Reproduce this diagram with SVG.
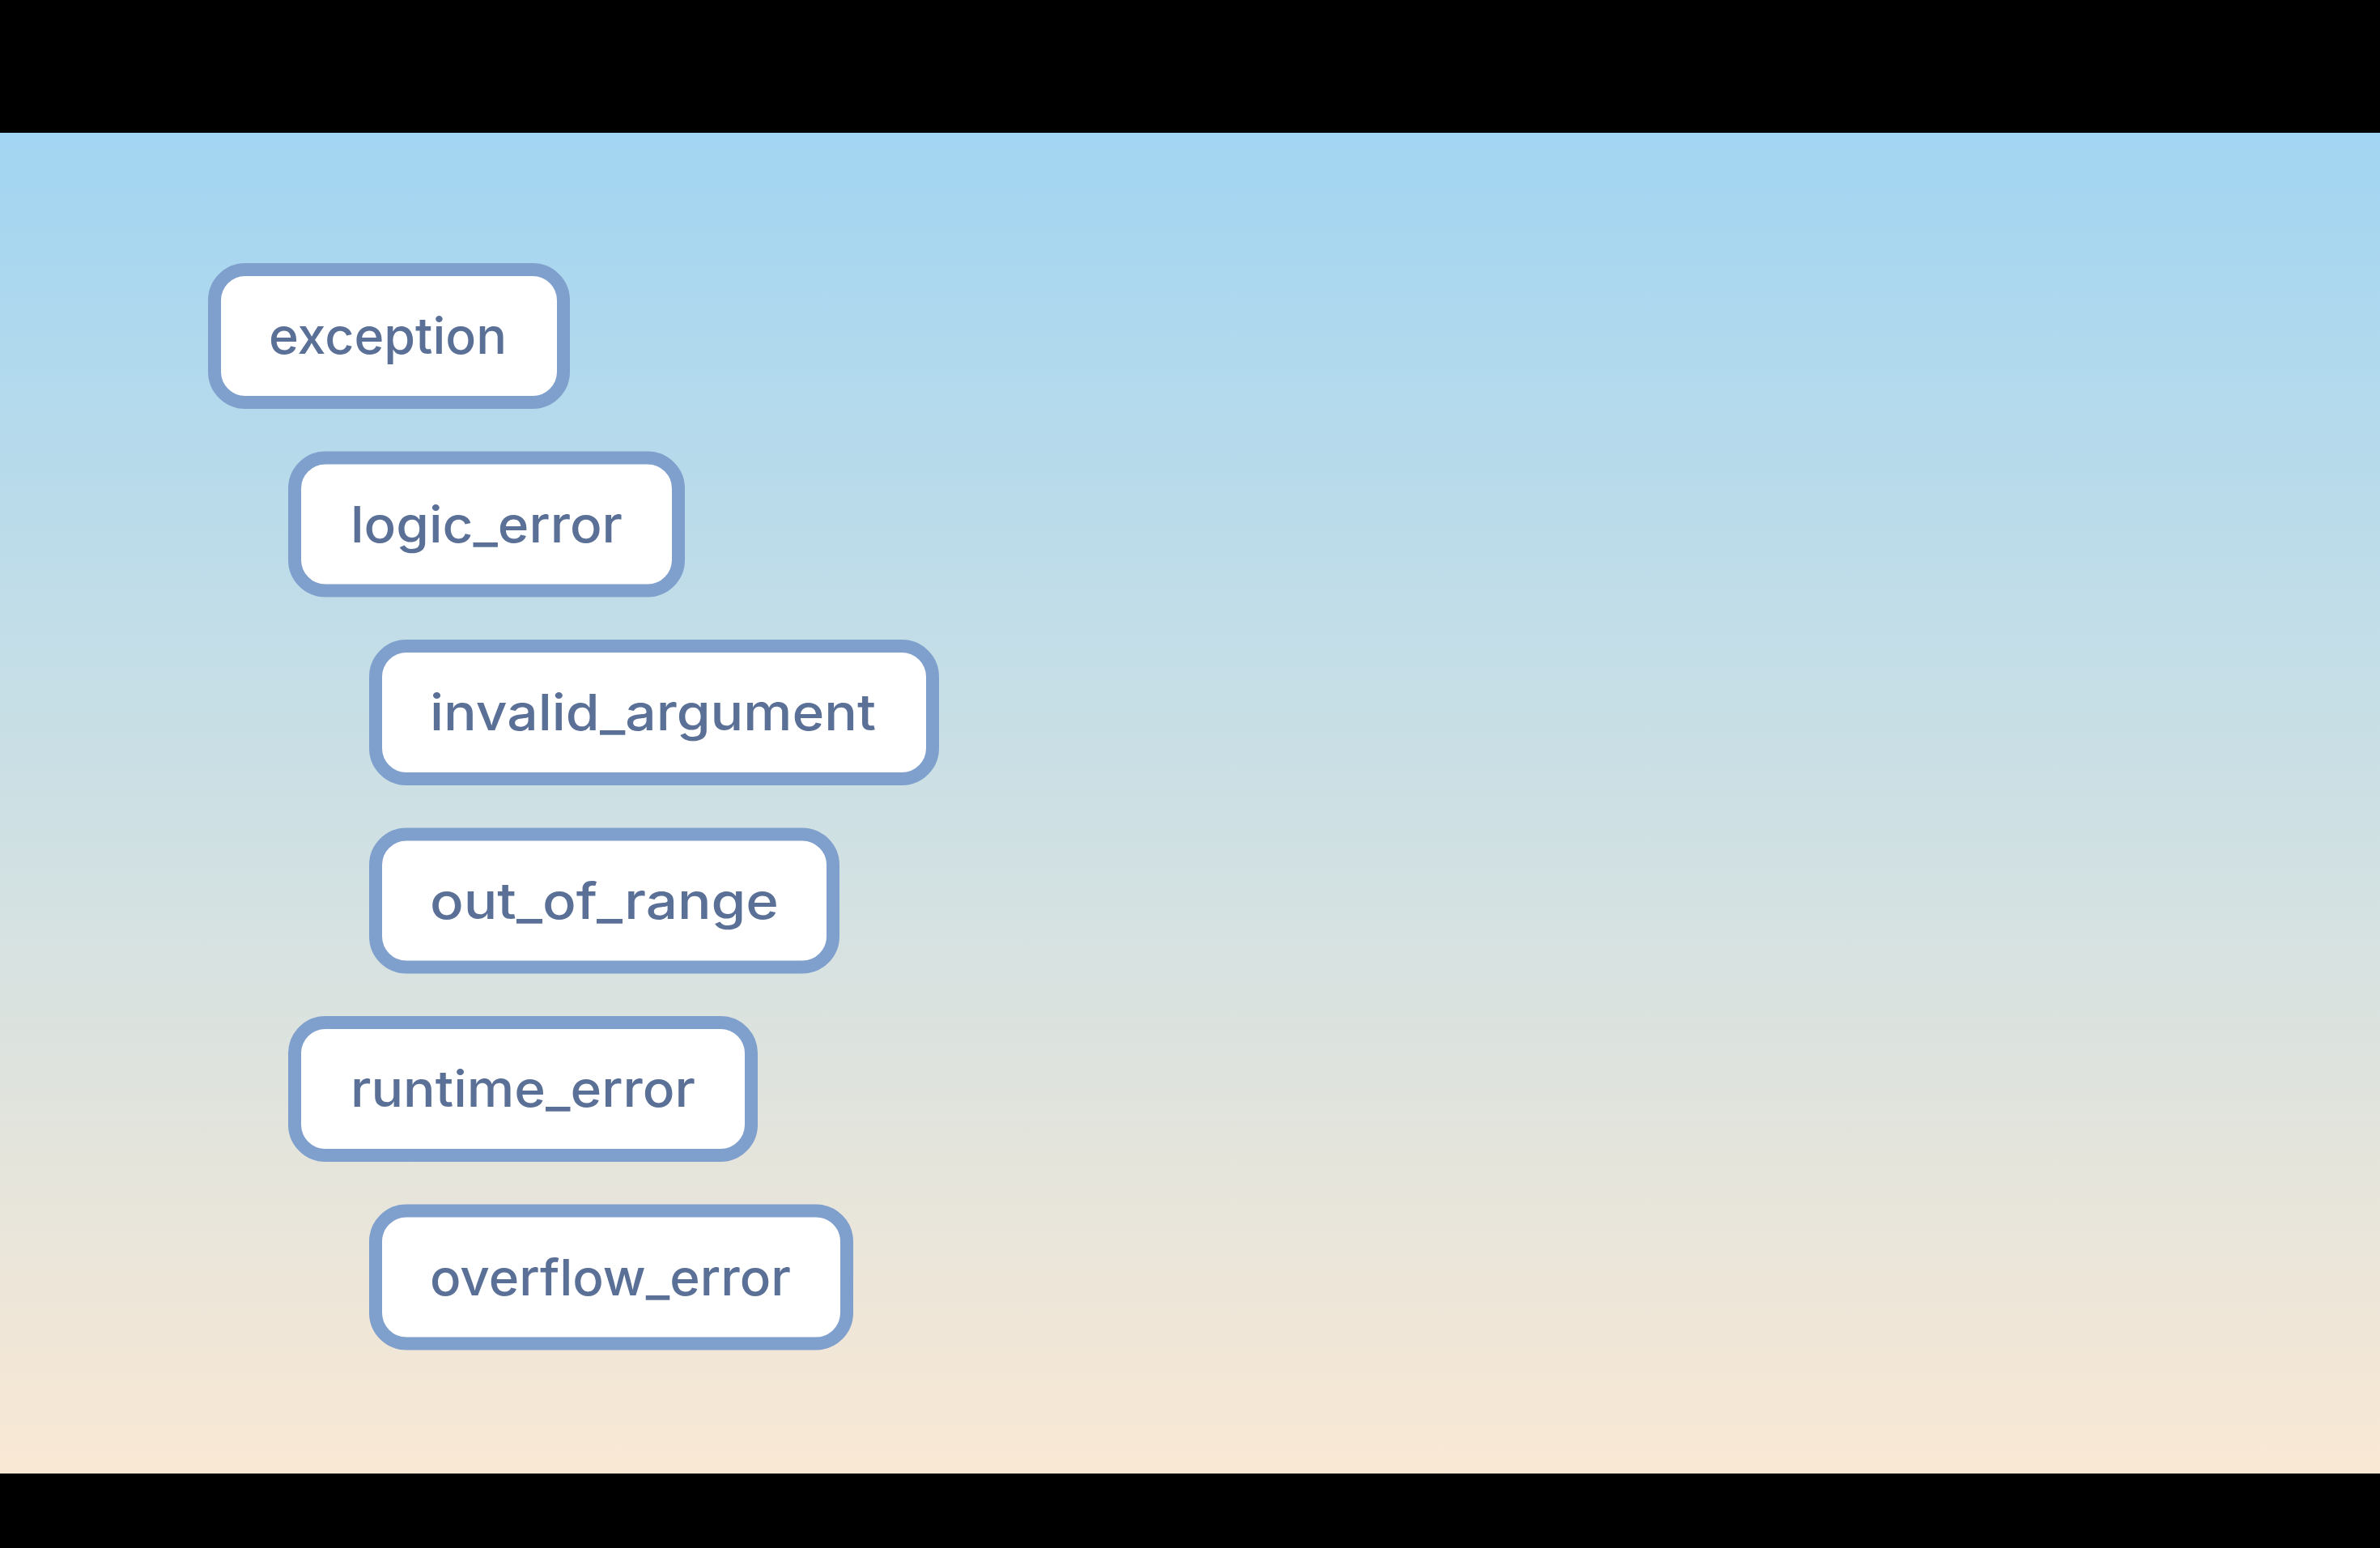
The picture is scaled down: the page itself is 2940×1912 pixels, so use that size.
<svg xmlns="http://www.w3.org/2000/svg" width="2940" height="1912" viewBox="0 0 2940 1912">
<defs>
<linearGradient id="bg" x1="0" y1="164" x2="0" y2="1820" gradientUnits="userSpaceOnUse">
<stop offset="0" stop-color="#a2d5f2"/>
<stop offset="0.5" stop-color="#cde0e4"/>
<stop offset="1" stop-color="#f9e8d4"/>
</linearGradient>
<style>
.box{fill:#ffffff;stroke:#7f9fcd;stroke-width:16}
.lbl{font-family:Inter,"Noto Sans","Liberation Sans",sans-serif;font-size:62px;font-weight:500;fill:#5a7096}
</style>
</defs>
<rect x="0" y="0" width="2940" height="1912" fill="#000000"/>
<rect x="0" y="164" width="2940" height="1656" fill="url(#bg)"/>
<g id="connectors"></g>
<g id="node-exception">
<rect class="box" x="265" y="333" width="431" height="164" rx="38"/>
<text class="lbl" x="332" y="437" textLength="294" lengthAdjust="spacingAndGlyphs">exception</text>
</g>
<g id="node-logic_error">
<rect class="box" x="364" y="565.5" width="474" height="164" rx="38"/>
<text class="lbl" x="433" y="669.5" textLength="336" lengthAdjust="spacingAndGlyphs">logic_error</text>
</g>
<g id="node-invalid_argument">
<rect class="box" x="464" y="798" width="688" height="164" rx="38"/>
<text class="lbl" x="531" y="902" textLength="551" lengthAdjust="spacingAndGlyphs">invalid_argument</text>
</g>
<g id="node-out_of_range">
<rect class="box" x="464" y="1030.5" width="565" height="164" rx="38"/>
<text class="lbl" x="531" y="1134.5" textLength="431" lengthAdjust="spacingAndGlyphs">out_of_range</text>
</g>
<g id="node-runtime_error">
<rect class="box" x="364" y="1263" width="564" height="164" rx="38"/>
<text class="lbl" x="433" y="1367" textLength="426" lengthAdjust="spacingAndGlyphs">runtime_error</text>
</g>
<g id="node-overflow_error">
<rect class="box" x="464" y="1495.5" width="582" height="164" rx="38"/>
<text class="lbl" x="531" y="1599.5" textLength="446" lengthAdjust="spacingAndGlyphs">overflow_error</text>
</g>
</svg>
